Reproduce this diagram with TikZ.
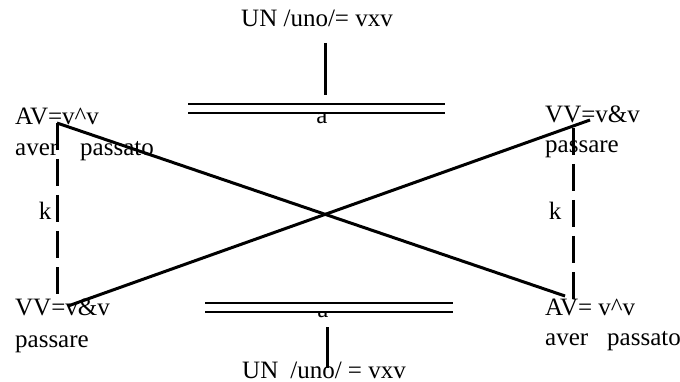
\documentclass[tikz,border=0pt]{standalone}
\usepackage{fontspec}
\setmainfont{Liberation Serif}
\begin{document}
\begin{tikzpicture}[x=1pt,y=-1pt,
  lbl/.style={anchor=base west,inner sep=0pt,font=\fontsize{25}{30}\selectfont},
  rulel/.style={line width=1.3pt},
  link/.style={line width=3pt},
  dashlink/.style={line width=3pt,dash pattern=on 27pt off 9pt}]
\useasboundingbox (0,0) rectangle (680,382);
% texts
\node[lbl] (un1) at (241,27) {UN /uno/= vxv};
\node[lbl] (tl1) at (15,125) {AV=v\^{}v};
\node[lbl] (tl2) at (15,156) {aver\hspace{22pt}passato};
\node[lbl] (tr1) at (545,123) {VV=v\&v};
\node[lbl] (tr2) at (545,153) {passare};
\node[lbl] (bl1) at (15,315) {VV=v\&v};
\node[lbl] (bl2) at (15,347) {passare};
\node[lbl] (br1) at (545,315) {AV= v\^{}v};
\node[lbl] (br2) at (545,345) {aver\hspace{19pt}passato};
\node[lbl] (un2) at (242,378) {UN\hspace{12pt}/uno/ = vxv};
\node[lbl,anchor=base] (k1) at (45,220) {k};
\node[lbl,anchor=base] (k2) at (555,220) {k};
\begin{scope}
\clip (180,114) rectangle (460,140);
\node[lbl,anchor=base] (a1) at (322,124) {a};
\end{scope}
\begin{scope}
\clip (180,313) rectangle (460,330);
\node[lbl,anchor=base] (a2) at (323,317) {a};
\end{scope}
% coordinates
\coordinate (tv1) at (325,43);
\coordinate (tv2) at (325,95);
\coordinate (bv1) at (327,327);
\coordinate (bv2) at (327,368);
\coordinate (r1a) at (188,104); \coordinate (r1b) at (445,104);
\coordinate (r2a) at (188,113); \coordinate (r2b) at (445,113);
\coordinate (r3a) at (205,303); \coordinate (r3b) at (453,303);
\coordinate (r4a) at (205,312); \coordinate (r4b) at (453,312);
\coordinate (AVtl) at (57,123);
\coordinate (AVbr) at (565,296);
\coordinate (VVbl) at (68,306);
\coordinate (VVtr) at (590,120);
\coordinate (dl1) at (57,123); \coordinate (dl2) at (57,297);
\coordinate (dr1) at (573,128); \coordinate (dr2) at (573,299);
% lines
\draw[link] (tv1) -- (tv2);
\draw[link] (bv1) -- (bv2);
\draw[rulel] (r1a) -- (r1b);
\draw[rulel] (r2a) -- (r2b);
\draw[rulel] (r3a) -- (r3b);
\draw[rulel] (r4a) -- (r4b);
\draw[link] (AVtl) -- (AVbr);
\draw[link] (VVbl) -- (VVtr);
\draw[dashlink] (dl1) -- (dl2);
\draw[dashlink] (dr1) -- (dr2);
\end{tikzpicture}
\end{document}
